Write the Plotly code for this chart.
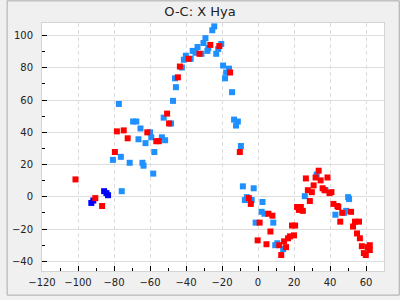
import plotly.graph_objects as go

title = "O-C: X Hya"

# light blue series
blue_x = [-77.3, -69.4, -67.6, -65.3, -66.4, -62.5, -60.0, -59.3, -53.4, -51.6, -52.4, -57.6,
          -76.2, -80.6, -71.3, -64.2, -63.6, -58.2, -75.7,
          -24.3, -25.4, -29.2, -30.3, -20.4, -33.6, -27.6, -28.1, -22.1, -23.2, -36.3, -34.7,
          -31.4, -40.1, -41.2, -37.4, -42.3, -46.1, -45.6, -47.2, -48.3,
          -19.4, -16.1, -17.7, -18.3, -14.4, -13.3, -11.2, -12.2, -9.5,
          -8.4, -2.4, -6.2, -7.3, -3.5, 2.5, 2.0, 3.6, -1.3, 8.5, 10.7, 9.6, 14.0,
          32.6, 26.0, 37.5, 50.1, 50.6, 43.0, 49.0, 47.9]
blue_y = [57.6, 46.7, 46.7, 42.4, 35.7, 33.3, 40.0, 36.9, 36.9, 35.1, 49.1, 27.8,
          24.8, 22.9, 21.1, 21.1, 19.3, 14.4, 3.5,
          105.7, 103.3, 98.4, 95.4, 94.8, 92.9, 92.3, 90.5, 91.7, 88.7, 90.5, 89.3,
          88.7, 87.5, 85.0, 85.6, 80.2, 73.5, 68.0, 59.5, 45.5,
          81.4, 79.5, 77.1, 73.5, 64.9, 47.9, 46.7, 44.2, 31.5,
          6.5, 5.3, -0.2, -2.0, -2.0, -3.2, -9.3, -10.5, -16.0, -16.0, -28.8, -30.0, -32.4,
          13.8, 0.4, 4.1, -0.2, -1.4, -11.1, -8.7, -9.9]

# dark blue series
navy_x = [-85.5, -84.2, -83.3, -92.6, -91.5]
navy_y = [3.5, 2.3, 1.0, -3.8, -2.3]

# red series
red_x = [-101.4, -90.4, -86.6, -78.4, -74.6, -72.4, -79.5, -61.5, -56.5, -55.1, -50.5, -49.4,
         -44.5, -43.4, -38.5, -32.5, -26.5, -21.5, -15.5, -10.1, -5.1, -4.0, 0.9, -0.2,
         4.7, 5.8, 8.0, 6.9, 11.8, 12.9, 14.5, 15.6, 16.7, 17.8, 20.0, 18.9, 20.6, 21.7,
         22.7, 23.8, 24.9, 26.6, 27.7, 28.8, 29.9, 30.9, 32.0, 33.7, 34.8, 35.9, 37.0,
         38.6, 39.7, 40.8, 41.9, 44.1, 44.6, 46.8, 51.7, 45.7, 53.9, 56.1, 52.8, 55.0,
         56.6, 57.7, 58.8, 59.9, 61.0, 62.1, 62.1]
red_y = [10.8, -0.8, -5.7, 40.6, 41.2, 36.3, 27.8, 40.0, 34.5, 34.5, 51.6, 45.5,
         74.1, 80.8, 85.6, 88.7, 94.2, 93.5, 77.1, 27.8, -0.8, -4.4, -16.0, -27.0,
         -29.4, -10.5, -11.7, -21.5, -30.0, -36.1, -27.6, -31.2, -25.7, -24.5, -23.9, -17.8, -17.8, -6.3,
         -8.1, -6.3, -8.7, 11.4, 4.1, -2.6, 2.9, 7.1, 12.0, 16.2, 10.2, 5.3, 4.1,
         12.0, 2.3, 2.9, -4.4, -5.7, -6.3, -9.9, -9.3, -15.4, -15.4, -15.4, -18.4, -22.7,
         -25.7, -30.6, -34.9, -36.1, -31.2, -30.0, -33.0]

x_range = [-120, 70]
y_range = [-46.0, 107.8]

fig = go.Figure()
mk = dict(symbol="square", size=6, line=dict(width=0))
fig.add_trace(go.Scatter(x=blue_x, y=blue_y, mode="markers",
                         marker=dict(color="#1e90ff", **mk)))
fig.add_trace(go.Scatter(x=navy_x, y=navy_y, mode="markers",
                         marker=dict(color="#0000ff", **mk)))
fig.add_trace(go.Scatter(x=red_x, y=red_y, mode="markers",
                         marker=dict(color="#ff0000", **mk)))

W, H = 400, 300
ml, mr, mt, mb = 36, 16, 23, 25
pw, ph = W - ml - mr, H - mt - mb

fig.update_layout(
    width=W, height=H,
    margin=dict(l=ml, r=mr, t=mt, b=mb, pad=0),
    paper_bgcolor="#f0f0f0",
    plot_bgcolor="#ffffff",
    showlegend=False,
    font=dict(family="DejaVu Sans", size=10, color="#222222"),
    title=dict(text=title, x=0.5, xanchor="center", y=1 - 11 / H, yanchor="middle",
               font=dict(family="DejaVu Sans", size=13, color="#222222")),
    xaxis=dict(range=x_range, dtick=20, tick0=0, ticks="inside", ticklen=5,
               tickcolor="#000000", showgrid=True, gridcolor="#dddddd", griddash="4px,3px",
               gridwidth=1, zeroline=False, showline=True, mirror=True,
               linecolor="#d4d4d4", linewidth=1,
               minor=dict(dtick=10, ticks="inside", ticklen=3, tickcolor="#000000",
                          showgrid=False),
               ticklabelstandoff=2),
    yaxis=dict(range=y_range, dtick=20, tick0=0, ticks="inside", ticklen=5,
               tickcolor="#000000", showgrid=True, gridcolor="#dddddd", gridwidth=1,
               zeroline=False, showline=True, mirror=True,
               linecolor="#d4d4d4", linewidth=1,
               minor=dict(dtick=10, ticks="inside", ticklen=3, tickcolor="#000000",
                          showgrid=False),
               ticklabelstandoff=6),
)

fig.add_shape(type="rect", xref="paper", yref="paper",
              x0=(0.5 - ml) / pw, x1=(W - 0.5 - ml) / pw,
              y0=(0.5 - mb) / ph, y1=(H - 0.5 - mb) / ph,
              line=dict(color="#aaaaaa", width=1), layer="below")

fig.write_html("out.html")
